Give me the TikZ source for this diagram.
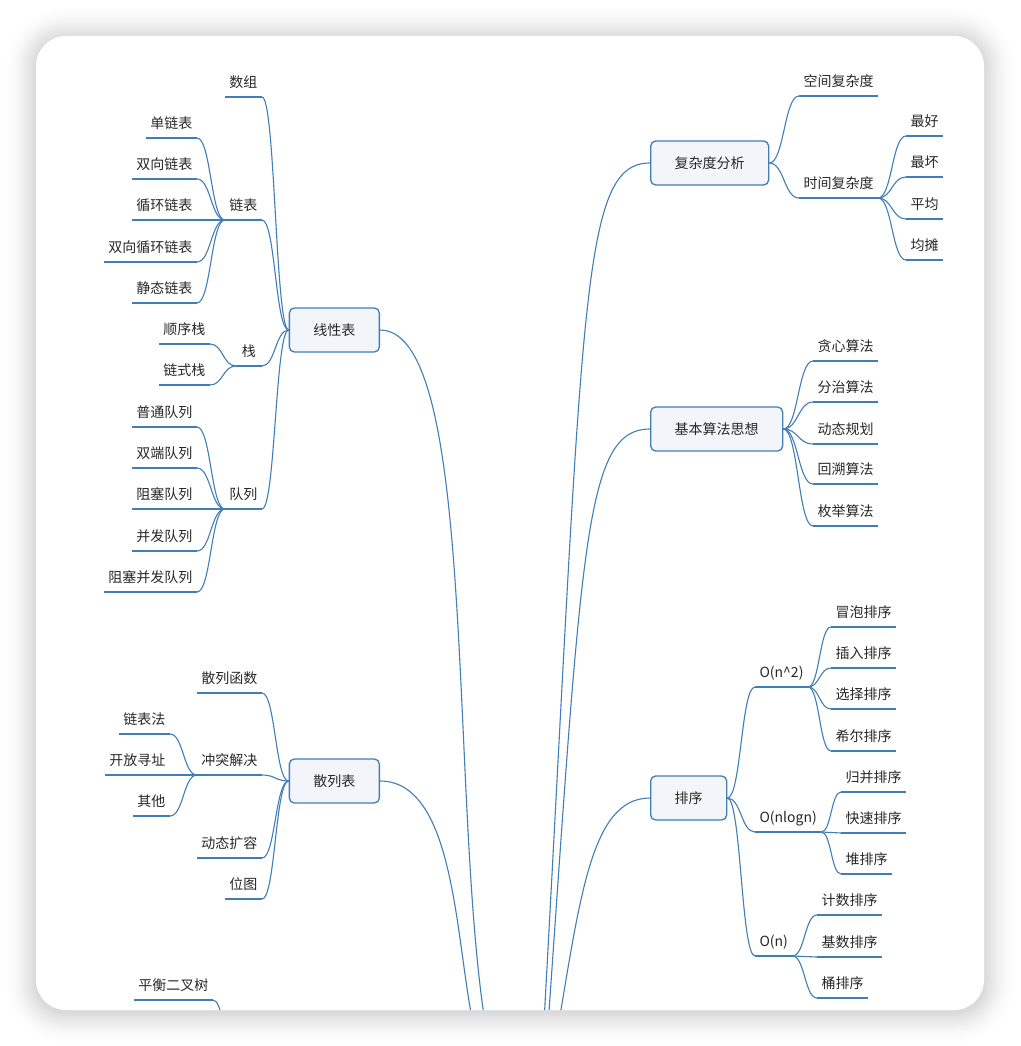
\documentclass[tikz,border=0pt]{standalone}
\usepackage{fontspec}
\newfontfamily\cjk{Noto Sans CJK SC}
\usetikzlibrary{calc}
\definecolor{azul}{RGB}{66,126,182}
\definecolor{relleno}{RGB}{242,246,251}
\definecolor{tinta}{RGB}{40,40,40}
\begin{document}
\begin{tikzpicture}[x=1pt, y=-1pt, line width=1.1pt,
  font=\cjk\fontsize{14}{16}\selectfont, text=tinta,
  every edge/.style={draw=azul},
  curva/.style={to path={.. controls ($(\tikztostart)!0.5!(\tikztotarget|-\tikztostart)$) and ($(\tikztotarget)!0.5!(\tikztostart|-\tikztotarget)$) .. (\tikztotarget)}},
  tema/.style={draw=azul, fill=relleno, rounded corners=5pt, line width=1.3pt, minimum height=44pt, inner xsep=24pt},
  hoja/.style={inner xsep=4pt, inner ysep=0pt, text height=10pt, text depth=8.8pt,
    append after command={(\tikzlastnode.south west) edge (\tikzlastnode.south east)}},
  hojaizq/.style={hoja, anchor=south east},
  hojader/.style={hoja, anchor=south west}]
\useasboundingbox (0,0) rectangle (1020,1046);
\fill [white] (0,0) rectangle (1020,1046);
% Tarjeta
\foreach \i [evaluate=\i as \gris using 14*((16-\i)/15)^1.6] in {15,...,1}
  \fill [black!\gris, rounded corners=30+2*\i] (36-2*\i,36-2*\i+2) rectangle (984+2*\i,1010+2*\i+2);
\fill [white, rounded corners=30] (36,36) rectangle (984,1010);

\begin{scope}
\clip [rounded corners=30] (36,36) rectangle (984,1010);
% Nodos
\node [tema, anchor=east] (lin) at (380,330) {线性表};
\node [tema, anchor=east] (has) at (380,781) {散列表};
\node [tema, anchor=west] (cpx) at (650,163) {复杂度分析};
\node [tema, anchor=west] (alg) at (650,429) {基本算法思想};
\node [tema, anchor=west] (ord) at (650,798) {排序};
% extremos ocultos
\coordinate (fin-lin) at (488,1040);
\coordinate (fin-has) at (477,1040);
\coordinate (fin-cpx) at (543,1040);
\coordinate (fin-alg) at (547,1040);
\coordinate (fin-ord) at (555,1045);
\coordinate (arbol) at (231,1035);

% ---
% lin
% ---
\node [hojaizq] (arr) at (262,97) {数组};
\node [hojaizq] (enl) at (262,220) {链表};
\node [hojaizq] (enl1) at (197,138) {单链表};
\node [hojaizq] (enl2) at (197,179) {双向链表};
\node [hojaizq] (enl3) at (197,220) {循环链表};
\node [hojaizq] (enl4) at (197,262) {双向循环链表};
\node [hojaizq] (enl5) at (197,303) {静态链表};
\node [hojaizq, minimum width=25pt] (pil) at (262,366) {栈};
\node [hojaizq] (pil1) at (210,344) {顺序栈};
\node [hojaizq] (pil2) at (210,385) {链式栈};
\node [hojaizq] (col) at (262,509) {队列};
\node [hojaizq] (col1) at (197,427) {普通队列};
\node [hojaizq] (col2) at (197,468) {双端队列};
\node [hojaizq] (col3) at (197,509) {阻塞队列};
\node [hojaizq] (col4) at (197,551) {并发队列};
\node [hojaizq] (col5) at (197,592) {阻塞并发队列};

\path (lin.west) edge [curva] (arr.south east);
\path (lin.west) edge [curva] (enl.south east);
\path (lin.west) edge [curva] (pil.south east);
\path (lin.west) edge [curva] (col.south east);
\foreach \h in {enl1,enl2,enl3,enl4,enl5}
  \path (enl.south west) edge [curva] (\h.south east);
\foreach \h in {pil1,pil2}
  \path (pil.south west) edge [curva] (\h.south east);
\foreach \h in {col1,col2,col3,col4,col5}
  \path (col.south west) edge [curva] (\h.south east);

% ---
% has
% ---
\node [hojaizq] (fun) at (262,693) {散列函数};
\node [hojaizq] (con) at (262,775) {冲突解决};
\node [hojaizq] (con1) at (170,734) {链表法};
\node [hojaizq] (con2) at (170,775) {开放寻址};
\node [hojaizq] (con3) at (170,816) {其他};
\node [hojaizq] (din) at (262,858) {动态扩容};
\node [hojaizq] (bit) at (262,899) {位图};

\foreach \h in {fun,con,din,bit}
  \path (has.west) edge [curva] (\h.south east);
\foreach \h in {con1,con2,con3}
  \path (con.south west) edge [curva] (\h.south east);

% ---
% arbol
% ---
\node [hojaizq] (avl) at (213,1000) {平衡二叉树};
\path (arbol) edge [curva] (avl.south east);

% ---
% cpx
% ---
\node [hojader] (esp) at (799,96) {空间复杂度};
\node [hojader] (tie) at (799,198) {时间复杂度};
\node [hojader] (tie1) at (906,136) {最好};
\node [hojader] (tie2) at (906,177) {最坏};
\node [hojader] (tie3) at (906,219) {平均};
\node [hojader] (tie4) at (906,260) {均摊};

\foreach \h in {esp,tie}
  \path (cpx.east) edge [curva] (\h.south west);
\foreach \h in {tie1,tie2,tie3,tie4}
  \path (tie.south east) edge [curva] (\h.south west);

% ---
% alg
% ---
\node [hojader] (voraz) at (813,361) {贪心算法};
\node [hojader] (divi) at (813,402) {分治算法};
\node [hojader] (prog) at (813,444) {动态规划};
\node [hojader] (retro) at (813,484) {回溯算法};
\node [hojader] (enum) at (813,526) {枚举算法};

\foreach \h in {voraz,divi,prog,retro,enum}
  \path (alg.east) edge [curva] (\h.south west);

% ---
% ord
% ---
\node [hojader] (cuad) at (755,687) {O(n\textasciicircum{}2)};
\node [hojader] (nlog) at (755,832) {O(nlogn)};
\node [hojader] (line) at (755,956) {O(n)};
\node [hojader] (ord1) at (831,627) {冒泡排序};
\node [hojader] (ord2) at (831,668) {插入排序};
\node [hojader] (ord3) at (831,709) {选择排序};
\node [hojader] (ord4) at (831,751) {希尔排序};
\node [hojader] (ord5) at (841,792) {归并排序};
\node [hojader] (ord6) at (841,833) {快速排序};
\node [hojader] (ord7) at (841,874) {堆排序};
\node [hojader] (ord8) at (817,915) {计数排序};
\node [hojader] (ord9) at (817,957) {基数排序};
\node [hojader] (ord10) at (817,998) {桶排序};

\foreach \h in {cuad,nlog,line}
  \path (ord.east) edge [curva] (\h.south west);
\foreach \h in {ord1,ord2,ord3,ord4}
  \path (cuad.south east) edge [curva] (\h.south west);
\foreach \h in {ord5,ord6,ord7}
  \path (nlog.south east) edge [curva] (\h.south west);
\foreach \h in {ord8,ord9,ord10}
  \path (line.south east) edge [curva] (\h.south west);

% Ejes al centro
\draw [azul] (lin.east) .. controls +(100,0) and +(-40,-220) .. (fin-lin);
\draw [azul] (has.east) .. controls +(80,0) and +(-22,-80) .. (fin-has);
\draw [azul] (cpx.west) .. controls +(-70,0) and +(41,-740) .. (fin-cpx);
\draw [azul] (alg.west) .. controls +(-65,0) and +(35,-500) .. (fin-alg);
\draw [azul] (ord.west) .. controls +(-60,0) and +(25,-145) .. (fin-ord);
\end{scope}
\end{tikzpicture}
\end{document}
